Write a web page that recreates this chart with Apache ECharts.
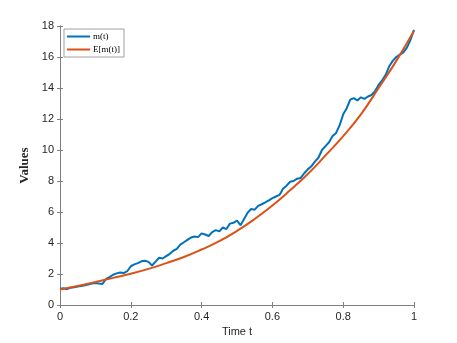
<!DOCTYPE html>
<html>
<head>
<meta charset="utf-8">
<script src="https://cdn.jsdelivr.net/npm/echarts@6/dist/echarts.min.js"></script>
<style>
    html, body { margin: 0; padding: 0; background: #fff; }
    #chart { width: 457px; height: 343px; }
</style>
</head>
<body>
<div id="chart"></div>
<script>
// 时间轴 (蓝色曲线按 0.01 取点)
const tBlue = [];
for (let i = 0; i <= 100; i++) tBlue.push(i / 100);

// m(t) 读图估计
const mValues = [
    1.05, 1.08, 1.02, 1.12, 1.15, 1.2, 1.22, 1.28, 1.32, 1.38,
    1.42, 1.38, 1.36, 1.68, 1.8, 1.95, 2.04, 2.1, 2.06, 2.18,
    2.5, 2.62, 2.7, 2.82, 2.85, 2.78, 2.55, 2.8, 3.05, 3.0,
    3.15, 3.3, 3.5, 3.62, 3.9, 4.05, 4.2, 4.35, 4.42, 4.38,
    4.62, 4.55, 4.45, 4.7, 4.83, 4.75, 5.0, 4.9, 5.25, 5.3,
    5.45, 5.15, 5.55, 5.95, 6.2, 6.15, 6.4, 6.5, 6.62, 6.75,
    6.9, 7.0, 7.1, 7.5, 7.7, 7.95, 8.0, 8.15, 8.2, 8.5,
    8.75, 8.95, 9.25, 9.5, 10.0, 10.25, 10.5, 10.9, 11.1, 11.6,
    12.3, 12.7, 13.25, 13.35, 13.2, 13.4, 13.3, 13.45, 13.55, 13.8,
    14.2, 14.5, 14.85, 15.4, 15.75, 16.0, 16.15, 16.3, 16.6, 17.1,
    17.75
];

// E[m(t)] 读图估计 (0.05 间隔)
const tOrange = [0, 0.05, 0.1, 0.15, 0.2, 0.25, 0.3, 0.35, 0.4, 0.45, 0.5,
    0.55, 0.6, 0.65, 0.7, 0.75, 0.8, 0.85, 0.9, 0.95, 1];
const eValues = [1.0, 1.22, 1.48, 1.75, 2.02, 2.33, 2.7, 3.1, 3.58, 4.12, 4.78,
    5.55, 6.42, 7.4, 8.45, 9.65, 10.9, 12.3, 14.0, 15.75, 17.7];

// 刻度
const xTicks = [0, 0.2, 0.4, 0.6, 0.8, 1];
const yTicks = [0, 2, 4, 6, 8, 10, 12, 14, 16, 18];

const seriesNames = ["m(t)", "E[m(t)]"];
const colors = ["#0072BD", "#D95319"];

const chart = echarts.init(document.getElementById("chart"));

const axisColor = "#808080";
const labelColor = "#262626";
const sans = "Liberation Sans";
const serif = "Liberation Serif";

const baseAxis = {
    type: "value",
    axisLine: { show: true, lineStyle: { color: axisColor, width: 1 } },
    axisTick: { show: true, inside: true, length: 3, lineStyle: { color: axisColor } },
    splitLine: { show: false },
};

chart.setOption({
    animation: false,
    backgroundColor: "#fff",
    color: colors,
    grid: { left: 60, right: 43, top: 26, bottom: 38, containLabel: false },
    legend: {
        left: 64,
        top: 29,
        orient: "vertical",
        data: seriesNames,
        icon: "rect",
        itemWidth: 23,
        itemHeight: 2,
        itemGap: 4,
        padding: [3, 4, 3, 3],
        borderColor: "#a0a0a0",
        borderWidth: 1,
        backgroundColor: "#fff",
        textStyle: { fontFamily: serif, fontSize: 9, color: "#000", padding: [0, 0, 0, -2] },
    },
    xAxis: [
        Object.assign({}, baseAxis, {
            min: 0,
            max: 1,
            interval: 0.2,
            position: "bottom",
            name: "Time t",
            nameLocation: "middle",
            nameGap: 21,
            nameTextStyle: { fontFamily: sans, fontSize: 11, color: labelColor },
            axisLabel: {
                fontFamily: sans, fontSize: 11, color: labelColor, margin: 6,
                formatter: v => (xTicks.includes(+v.toFixed(1)) ? String(+v.toFixed(1)) : ""),
            },
        }),
        Object.assign({}, baseAxis, {
            min: 0, max: 1, interval: 0.2, position: "top",
            axisLabel: { show: false },
        }),
    ],
    yAxis: [
        Object.assign({}, baseAxis, {
            min: 0,
            max: 18,
            interval: 2,
            position: "left",
            name: "Values",
            nameLocation: "middle",
            nameGap: 24,
            nameTextStyle: { fontFamily: serif, fontSize: 13, fontWeight: "bold", color: labelColor },
            axisLabel: {
                fontFamily: sans, fontSize: 11, color: labelColor, margin: 6,
                formatter: v => (yTicks.includes(v) ? String(v) : ""),
            },
        }),
        Object.assign({}, baseAxis, {
            min: 0, max: 18, interval: 2, position: "right",
            axisLabel: { show: false },
        }),
    ],
    series: [
        {
            name: seriesNames[0],
            type: "line",
            data: tBlue.map((t, i) => [t, mValues[i]]),
            showSymbol: false,
            symbol: "none",
            lineStyle: { width: 2, color: colors[0] },
            z: 3,
        },
        {
            name: seriesNames[1],
            type: "line",
            data: tOrange.map((t, i) => [t, eValues[i]]),
            showSymbol: false,
            symbol: "none",
            smooth: true,
            lineStyle: { width: 2, color: colors[1] },
            z: 4,
        },
    ],
});
</script>
</body>
</html>
